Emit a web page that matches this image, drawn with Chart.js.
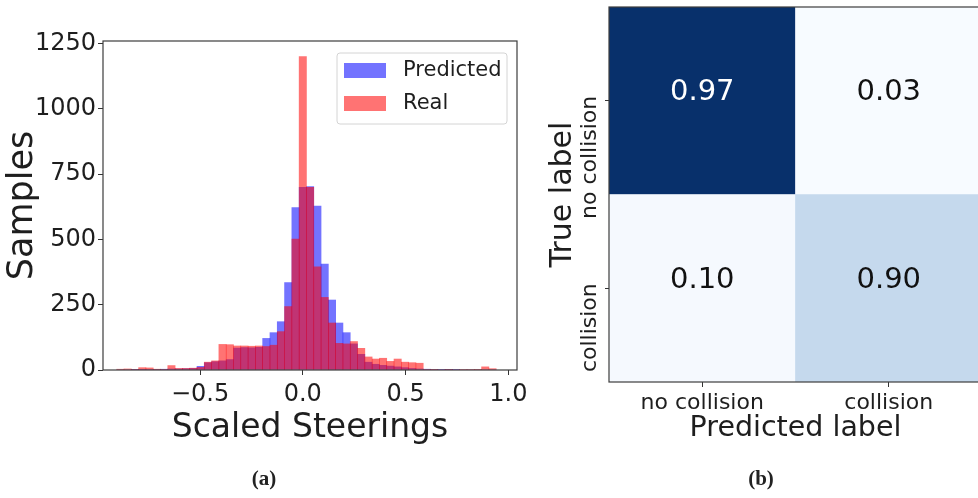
<!DOCTYPE html>
<html>
<head>
<meta charset="utf-8">
<script src="https://cdn.jsdelivr.net/npm/chart.js@4.4.1/dist/chart.umd.min.js"></script>
<style>
  html, body { margin: 0; padding: 0; background: #fff; overflow: hidden; }
  #wrap { position: relative; width: 978px; height: 498px; overflow: hidden; }
  #histBox { position: absolute; left: 0; top: 0; width: 540px; height: 498px; }
  #cmBox { position: absolute; left: 540px; top: 0; width: 460px; height: 498px; }
  .cap { position: absolute; top: 466px; line-height: 24px; font: bold 21px "Liberation Serif", serif;
         color: #222; transform: translateX(-50%); }
</style>
</head>
<body>
<div id="wrap">
  <div id="histBox"><canvas id="hist"></canvas></div>
  <div id="cmBox"><canvas id="cm"></canvas></div>
  <div class="cap" style="left:264px">(a)</div>
  <div class="cap" style="left:761px">(b)</div>
</div>
<script>
// (a) histogram of scaled steerings: bin centres + counts
const BIN_CENTERS = [
  -0.8875, -0.852, -0.8165, -0.781, -0.7455, -0.71, -0.6745, -0.639, -0.6035, -0.568,
  -0.5325, -0.497, -0.4615, -0.426, -0.3905, -0.355, -0.3195, -0.284, -0.2485, -0.213,
  -0.1775, -0.142, -0.1065, -0.071, -0.0355, 0, 0.0355, 0.071, 0.1065, 0.142,
  0.1775, 0.213, 0.2485, 0.284, 0.3195, 0.355, 0.3905, 0.426, 0.4615, 0.497,
  0.5325, 0.568, 0.6035, 0.639, 0.6745, 0.71, 0.7455, 0.781, 0.8165, 0.852,
  0.8875, 0.923
];
const PREDICTED = [
  0, 0, 1, 1, 2, 2, 3, 4, 4, 5,
  6, 14, 28, 32, 35, 40, 84, 86, 85, 87,
  121, 143, 185, 335, 622, 700, 702, 628, 406, 268,
  180, 143, 100, 60, 30, 22, 18, 15, 12, 9,
  6, 4, 3, 2, 1, 1, 1, 0, 0, 0,
  0, 0
];
const REAL = [
  3, 4, 2, 9, 8, 3, 2, 17, 6, 6,
  7, 10, 30, 35, 98, 97, 92, 92, 91, 92,
  90, 95, 147, 243, 501, 1200, 700, 395, 278, 180,
  102, 100, 109, 83, 50, 42, 45, 33, 42, 30,
  28, 26, 2, 1, 0, 1, 0, 2, 2, 1,
  12, 5
];
const X_TICKS = [-0.5, 0.0, 0.5, 1.0];
const Y_TICKS = [0, 250, 500, 750, 1000, 1250];
const X_MIN = -0.972, X_MAX = 1.042, Y_MAX = 1260;

// (b) confusion matrix, rows = true label, columns = predicted label
const PRED_LABELS = ["no collision", "collision"];
const TRUE_LABELS = ["no collision", "collision"];
const ROW_NO_COLLISION = [0.97, 0.03];
const ROW_COLLISION = [0.10, 0.90];

const FONT = "'DejaVu Sans', sans-serif";
const INK = "#1e1e1e";
const CELL_COLORS = { noCollision: ["#08306b", "#f7fbff"], collision: ["#f5f9fe", "#c5d9ed"] };

const fmtX = v => (v < 0 ? "\u2212" + Math.abs(v).toFixed(1) : v.toFixed(1));

// frame + legend drawn inside the plot area, like matplotlib
const histDecor = {
  id: "histDecor",
  afterDraw(chart) {
    const { ctx, chartArea: a } = chart;
    ctx.save();
    ctx.strokeStyle = "#3c3c3c";
    ctx.lineWidth = 1.2;
    ctx.strokeRect(a.left, a.top, a.right - a.left, a.bottom - a.top);

    const bw = 170, bh = 71;
    const bx = a.right - 10 - bw, by = a.top + 12;
    ctx.beginPath();
    if (ctx.roundRect) ctx.roundRect(bx, by, bw, bh, 3); else ctx.rect(bx, by, bw, bh);
    ctx.fillStyle = "rgba(255,255,255,0.85)";
    ctx.fill();
    ctx.strokeStyle = "#d4d4d4";
    ctx.lineWidth = 1;
    ctx.stroke();

    ctx.font = "21px " + FONT;
    ctx.textBaseline = "middle";
    ctx.textAlign = "left";
    chart.data.datasets.forEach((ds, i) => {
      const sy = by + 10 + i * 33;
      ctx.fillStyle = ds.backgroundColor;
      ctx.fillRect(bx + 7, sy, 42, 15);
      ctx.fillStyle = INK;
      ctx.fillText(ds.label, bx + 66, sy + 8);
    });
    ctx.restore();
  }
};

new Chart(document.getElementById("hist"), {
  type: "bar",
  data: {
    datasets: [
      { label: "Predicted", data: BIN_CENTERS.map((x, i) => ({ x, y: PREDICTED[i] })),
        backgroundColor: "rgba(0,0,255,0.55)", order: 2 },
      { label: "Real", data: BIN_CENTERS.map((x, i) => ({ x, y: REAL[i] })),
        backgroundColor: "rgba(255,0,0,0.55)", order: 1 }
    ]
  },
  options: {
    responsive: true,
    maintainAspectRatio: false,
    animation: false,
    layout: { padding: { left: 0, right: 23, top: 41, bottom: 48 } },
    datasets: { bar: { grouped: false, barPercentage: 1, categoryPercentage: 1, borderWidth: 0 } },
    plugins: { legend: { display: false }, tooltip: { enabled: false } },
    scales: {
      x: {
        type: "linear", min: X_MIN, max: X_MAX, offset: false,
        afterBuildTicks: s => { s.ticks = X_TICKS.map(v => ({ value: v })); },
        afterFit: s => { s.height = 80; },
        grid: { drawOnChartArea: false, offset: false, tickLength: 5, color: "#333" },
        border: { display: false },
        ticks: { font: { family: FONT, size: 24 }, color: INK, padding: 5, maxRotation: 0, callback: fmtX },
        title: { display: true, text: "Scaled Steerings", color: INK,
                 font: { family: FONT, size: 33, lineHeight: 1 }, padding: { top: 0, bottom: 5 } }
      },
      y: {
        min: 0, max: Y_MAX,
        afterBuildTicks: s => { s.ticks = Y_TICKS.map(v => ({ value: v })); },
        afterFit: s => { s.width = 103; },
        grid: { drawOnChartArea: false, tickLength: 5, color: "#333" },
        border: { display: false },
        ticks: { font: { family: FONT, size: 24 }, color: INK, padding: 2, callback: v => String(v) },
        title: { display: true, text: "Samples", color: INK,
                 font: { family: FONT, size: 35, lineHeight: 1 }, padding: { top: 5, bottom: 0 } }
      }
    }
  },
  plugins: [histDecor]
});

// cell colour -> readable text colour
function textColor(hex) {
  const n = parseInt(hex.slice(1), 16);
  const lum = (0.299 * (n >> 16) + 0.587 * ((n >> 8) & 255) + 0.114 * (n & 255)) / 255;
  return lum < 0.5 ? "#ffffff" : "#111111";
}

const cmDecor = {
  id: "cmDecor",
  afterDraw(chart) {
    const { ctx, chartArea: a } = chart;
    ctx.save();
    // cell values (matplotlib centres them a little above the middle)
    ctx.font = "29px " + FONT;
    ctx.textAlign = "center";
    ctx.textBaseline = "middle";
    chart.data.datasets.forEach((ds, di) => {
      chart.getDatasetMeta(di).data.forEach((bar, j) => {
        ctx.fillStyle = textColor(ds.backgroundColor[j]);
        ctx.fillText(ds.cells[j].toFixed(2), bar.x, (bar.y + bar.base) / 2 - 8);
      });
    });
    // rotated y tick labels, ending at the tick
    const ys = chart.scales.y;
    ctx.font = "22px " + FONT;
    ctx.fillStyle = INK;
    ctx.textAlign = "right";
    ys.ticks.forEach(t => {
      const label = t.value > 1 ? TRUE_LABELS[0] : TRUE_LABELS[1];
      ctx.save();
      ctx.translate(ys.right - 19, ys.getPixelForValue(t.value) - 5);
      ctx.rotate(-Math.PI / 2);
      ctx.fillText(label, 0, 0);
      ctx.restore();
    });
    // frame
    ctx.strokeStyle = "#3c3c3c";
    ctx.lineWidth = 1.2;
    ctx.strokeRect(a.left, a.top, a.right - a.left, a.bottom - a.top);
    ctx.restore();
  }
};

new Chart(document.getElementById("cm"), {
  type: "bar",
  data: {
    labels: PRED_LABELS,
    datasets: [
      { label: TRUE_LABELS[1], data: [1, 1], cells: ROW_COLLISION, backgroundColor: CELL_COLORS.collision },
      { label: TRUE_LABELS[0], data: [1, 1], cells: ROW_NO_COLLISION, backgroundColor: CELL_COLORS.noCollision }
    ]
  },
  options: {
    responsive: true,
    maintainAspectRatio: false,
    animation: false,
    layout: { padding: { left: 0, right: 18, top: 7, bottom: 50 } },
    datasets: { bar: { barPercentage: 1, categoryPercentage: 1, borderWidth: 0 } },
    plugins: { legend: { display: false }, tooltip: { enabled: false } },
    scales: {
      x: {
        stacked: true, offset: true,
        afterFit: s => { s.height = 66; },
        grid: { drawOnChartArea: false, offset: false, tickLength: 5, color: "#333" },
        border: { display: false },
        ticks: { font: { family: FONT, size: 22 }, color: INK, padding: 3, maxRotation: 0 },
        title: { display: true, text: "Predicted label", color: INK,
                 font: { family: FONT, size: 28.5, lineHeight: 1 }, padding: { top: 0, bottom: 5 } }
      },
      y: {
        stacked: true, min: 0, max: 2,
        afterBuildTicks: s => { s.ticks = [1.5, 0.5].map(v => ({ value: v })); },
        afterFit: s => { s.width = 69; },
        grid: { drawOnChartArea: false, tickLength: 4, color: "#333" },
        border: { display: false },
        ticks: { display: false },
        title: { display: true, text: "True label", color: INK,
                 font: { family: FONT, size: 30, lineHeight: 1 }, padding: { top: 8, bottom: 0 } }
      }
    }
  },
  plugins: [cmDecor]
});
</script>
</body>
</html>
